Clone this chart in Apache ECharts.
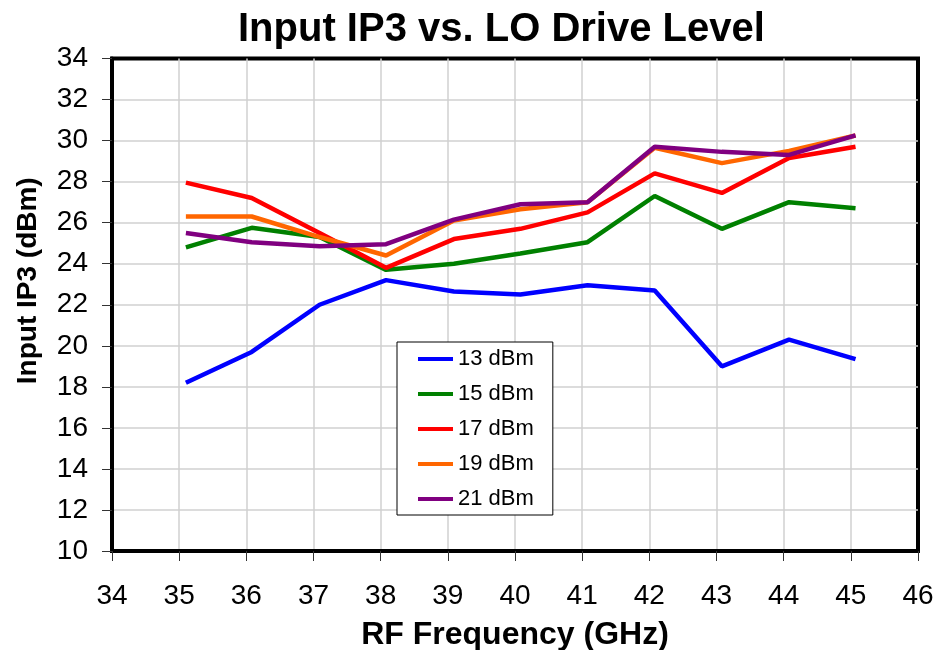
<!DOCTYPE html>
<html>
<head>
<meta charset="utf-8">
<script src="https://cdn.jsdelivr.net/npm/echarts@6/dist/echarts.min.js"></script>
<style>
    html, body { margin: 0; padding: 0; background: #fff; }
    #chart { width: 938px; height: 650px; }
</style>
</head>
<body>
<div id="chart"></div>
<script>
// RF frequency (GHz) of each measurement
const freq = [35.1, 36.08, 37.09, 38.08, 39.09, 40.08, 41.08, 42.08, 43.08, 44.08, 45.07];

// input IP3 (dBm) per LO drive level
const lo13 = [18.2, 19.7, 22.0, 23.2, 22.65, 22.5, 22.95, 22.7, 19.0, 20.3, 19.35];
const lo15 = [24.8, 25.75, 25.3, 23.7, 24.0, 24.5, 25.05, 27.3, 25.7, 27.0, 26.7];
const lo17 = [27.95, 27.2, 25.5, 23.8, 25.2, 25.7, 26.5, 28.4, 27.45, 29.15, 29.7];
const lo19 = [26.3, 26.3, 25.3, 24.4, 26.1, 26.65, 27.0, 29.65, 28.9, 29.5, 30.25];
const lo21 = [25.5, 25.05, 24.85, 24.95, 26.15, 26.9, 27.0, 29.7, 29.45, 29.3, 30.25];

const seriesNames = ['13 dBm', '15 dBm', '17 dBm', '19 dBm', '21 dBm'];
const seriesData = [lo13, lo15, lo17, lo19, lo21];
const colors = ['#0000ff', '#008000', '#ff0000', '#ff6600', '#800080'];

const font = "'Liberation Sans', Arial, sans-serif";

const chart = echarts.init(document.getElementById('chart'));

chart.setOption({
    animation: false,
    backgroundColor: '#fff',
    title: {
        text: 'Input IP3 vs. LO Drive Level',
        left: 233,
        top: 5,
        textStyle: {
            fontFamily: font,
            fontSize: 40,
            fontWeight: 'bold',
            color: '#000'
        }
    },
    legend: {
        orient: 'vertical',
        left: 397,
        top: 342,
        padding: [6, 19, 5, 21],
        itemGap: 13,
        itemWidth: 35,
        itemHeight: 4,
        icon: 'rect',
        borderColor: '#000',
        borderWidth: 1,
        backgroundColor: '#fff',
        textStyle: {
            fontFamily: font,
            fontSize: 22,
            lineHeight: 22,
            color: '#000'
        },
        data: seriesNames
    },
    grid: {
        left: 112,
        right: 20,
        top: 58.5,
        bottom: 99,
        show: true,
        borderColor: '#000',
        borderWidth: 4,
        containLabel: false,
        outerBoundsMode: 'none'
    },
    xAxis: {
        type: 'value',
        min: 34,
        max: 46,
        interval: 1,
        name: 'RF Frequency (GHz)',
        nameLocation: 'middle',
        nameGap: 68,
        nameTextStyle: {
            fontFamily: font,
            fontSize: 32,
            fontWeight: 'bold',
            color: '#000'
        },
        axisLine: { show: true, lineStyle: { color: '#000', width: 4 } },
        axisTick: { show: true, length: 10, lineStyle: { color: '#333', width: 1 } },
        axisLabel: {
            margin: 31,
            fontFamily: font,
            fontSize: 28,
            color: '#000'
        },
        splitLine: {
            showMinLine: false,
            showMaxLine: false,
            lineStyle: { color: '#d0d0d0', width: 1.5 }
        }
    },
    yAxis: {
        type: 'value',
        min: 10,
        max: 34,
        interval: 2,
        name: 'Input IP3 (dBm)',
        nameLocation: 'middle',
        nameGap: 70,
        nameTextStyle: {
            fontFamily: font,
            fontSize: 28,
            fontWeight: 'bold',
            color: '#000',
            padding: [0, 0, 0, 48]
        },
        axisLine: { show: true, lineStyle: { color: '#000', width: 4 } },
        axisTick: { show: true, length: 10, lineStyle: { color: '#333', width: 1 } },
        axisLabel: {
            margin: 24,
            fontFamily: font,
            fontSize: 28,
            color: '#000'
        },
        splitLine: {
            showMinLine: false,
            showMaxLine: false,
            lineStyle: { color: '#d0d0d0', width: 1.5 }
        }
    },
    series: seriesNames.map((name, i) => ({
        name: name,
        type: 'line',
        symbol: 'none',
        data: freq.map((f, j) => [f, seriesData[i][j]]),
        lineStyle: { color: colors[i], width: 4.5 },
        itemStyle: { color: colors[i] }
    }))
});
</script>
</body>
</html>
